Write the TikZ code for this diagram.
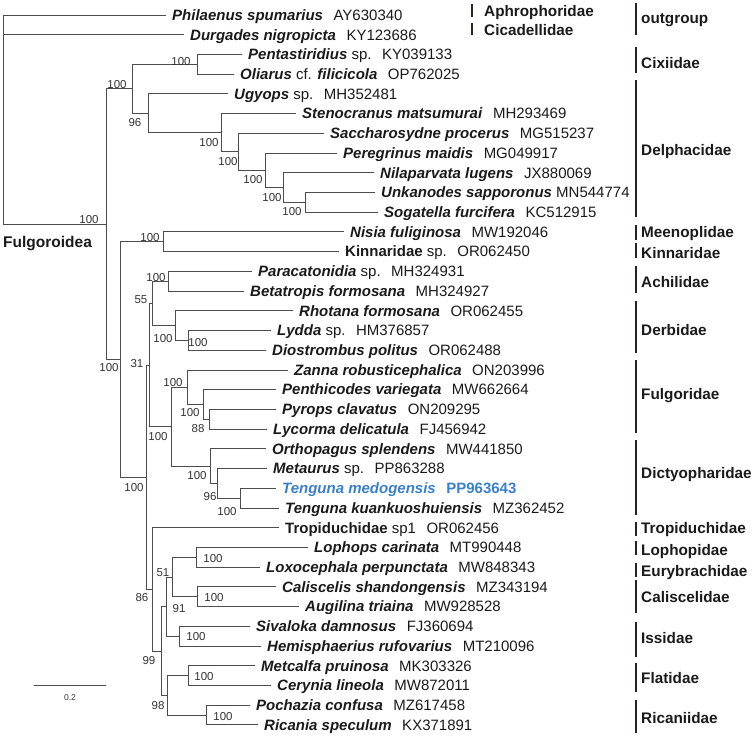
\documentclass[tikz,border=0pt]{standalone}
\usepackage{fontspec}
\setmainfont{Liberation Sans}
\usetikzlibrary{calc}
\definecolor{brc}{HTML}{4D4D4D}
\definecolor{txt}{HTML}{1A1A1A}
\definecolor{supc}{HTML}{333333}
\definecolor{barc}{HTML}{2B1F1F}
\definecolor{blu}{HTML}{3C80C4}
\newcommand\bi[1]{\textbf{\textit{#1}}}
\newcommand\accgap{\hspace{0.7em}}
\tikzset{
  brline/.style={draw=brc, line width=0.9pt},
  leaflab/.style={anchor=base west, inner sep=0pt, yshift=-5.3pt, xshift=6pt, text=txt, font=\fontsize{15}{18}\selectfont},
  famlab/.style={anchor=base west, inner sep=0pt, yshift=-5.4pt, text=txt, font=\bfseries\fontsize{15.3}{18}\selectfont},
  fambar/.style={draw=barc, line width=2.6pt},
  supp/.style={inner sep=0pt, text=supc, font=\fontsize{11.5}{13}\selectfont},
}
\begin{document}
\begin{tikzpicture}[x=1pt,y=-1pt]
\useasboundingbox (0,0) rectangle (755,737);
% leaf tips
\coordinate (L1) at (166,15);
\coordinate (L2) at (184,34.72);
\coordinate (L3) at (242,54.44);
\coordinate (L4) at (234,74.16);
\coordinate (L5) at (228,93.88);
\coordinate (L6) at (296,113.6);
\coordinate (L7) at (324,133.32);
\coordinate (L8) at (337,153.04);
\coordinate (L9) at (374,172.76);
\coordinate (L10) at (375,192.48);
\coordinate (L11) at (378,212.2);
\coordinate (L12) at (344,231.92);
\coordinate (L13) at (339,251.64);
\coordinate (L14) at (252,271.36);
\coordinate (L15) at (244,291.08);
\coordinate (L16) at (293,310.8);
\coordinate (L17) at (271,330.52);
\coordinate (L18) at (266,350.24);
\coordinate (L19) at (288,369.96);
\coordinate (L20) at (276,389.68);
\coordinate (L21) at (276,409.4);
\coordinate (L22) at (267,429.12);
\coordinate (L23) at (266,448.84);
\coordinate (L24) at (267,468.56);
\coordinate (L25) at (276,488.28);
\coordinate (L26) at (279,508);
\coordinate (L27) at (279,527.72);
\coordinate (L28) at (308,547.44);
\coordinate (L29) at (260,567.16);
\coordinate (L30) at (276,586.88);
\coordinate (L31) at (299,606.6);
\coordinate (L32) at (250,626.32);
\coordinate (L33) at (261,646.04);
\coordinate (L34) at (255,665.76);
\coordinate (L35) at (271,685.48);
\coordinate (L36) at (250,705.2);
\coordinate (L37) at (258,724.92);
% internal nodes
\coordinate (R) at (3.5,15);
\coordinate (F) at (106.5,224.15);
\coordinate (CD) at (132,88.8);
\coordinate (Cix) at (197,64.3);
\coordinate (N96) at (148,113.29);
\coordinate (D1) at (221,132.7);
\coordinate (D2) at (238,151.81);
\coordinate (D3) at (265,170.3);
\coordinate (D4) at (283,187.55);
\coordinate (D5) at (305,202.34);
\coordinate (N120) at (120,359.49);
\coordinate (MK) at (163,241.78);
\coordinate (N146) at (146,477.19);
\coordinate (N31) at (149,365.03);
\coordinate (N55) at (152,303.4);
\coordinate (Ach) at (168,281.22);
\coordinate (Derb) at (175,325.59);
\coordinate (Derb2) at (188,340.38);
\coordinate (FD) at (171,426.65);
\coordinate (Fulg) at (187,387.2);
\coordinate (Fulg2) at (203,404.47);
\coordinate (Fulg3) at (209,419.26);
\coordinate (Dict) at (210,466.1);
\coordinate (Dict96) at (217,483.35);
\coordinate (Teng) at (240,498.14);
\coordinate (N86) at (152,589.35);
\coordinate (N99) at (161,650.97);
\coordinate (N91) at (166,606.6);
\coordinate (N51) at (172,577.02);
\coordinate (LL) at (196,557.3);
\coordinate (CA) at (197,596.74);
\coordinate (SH) at (179,636.18);
\coordinate (N98) at (167,695.34);
\coordinate (MC) at (188,675.62);
\coordinate (PR) at (206,715.06);
% branches
\foreach \p/\c in {R/L1,R/L2,R/F,F/CD,F/N120,CD/Cix,CD/N96,Cix/L3,Cix/L4,
  N96/L5,N96/D1,D1/L6,D1/D2,D2/L7,D2/D3,D3/L8,D3/D4,D4/L9,D4/D5,D5/L10,D5/L11,
  N120/MK,N120/N146,MK/L12,MK/L13,N146/N31,N146/N86,N31/N55,N31/FD,
  N55/Ach,N55/Derb,Ach/L14,Ach/L15,Derb/L16,Derb/Derb2,Derb2/L17,Derb2/L18,
  FD/Fulg,FD/Dict,Fulg/L19,Fulg/Fulg2,Fulg2/L20,Fulg2/Fulg3,Fulg3/L21,Fulg3/L22,
  Dict/L23,Dict/Dict96,Dict96/L24,Dict96/Teng,Teng/L25,Teng/L26,
  N86/L27,N86/N99,N99/N91,N99/N98,N91/N51,N91/SH,N51/LL,N51/CA,
  LL/L28,LL/L29,CA/L30,CA/L31,SH/L32,SH/L33,N98/MC,N98/PR,MC/L34,MC/L35,PR/L36,PR/L37}
  \draw[brline] (\p) |- (\c);
% leaf labels
\node[leaflab] (t1) at (L1) {\bi{Philaenus spumarius}\accgap AY630340};
\node[leaflab] (t2) at (L2) {\bi{Durgades nigropicta}\accgap KY123686};
\node[leaflab] (t3) at (L3) {\bi{Pentastiridius} sp.\accgap KY039133};
\node[leaflab] (t4) at (L4) {\bi{Oliarus} cf. \bi{filicicola}\accgap OP762025};
\node[leaflab] (t5) at (L5) {\bi{Ugyops} sp.\accgap MH352481};
\node[leaflab] (t6) at (L6) {\bi{Stenocranus matsumurai}\accgap MH293469};
\node[leaflab] (t7) at (L7) {\bi{Saccharosydne procerus}\accgap MG515237};
\node[leaflab] (t8) at (L8) {\bi{Peregrinus maidis}\accgap MG049917};
\node[leaflab] (t9) at (L9) {\bi{Nilaparvata lugens}\accgap JX880069};
\node[leaflab] (t10) at (L10) {\bi{Unkanodes sapporonus} MN544774};
\node[leaflab] (t11) at (L11) {\bi{Sogatella furcifera}\accgap KC512915};
\node[leaflab] (t12) at (L12) {\bi{Nisia fuliginosa}\accgap MW192046};
\node[leaflab] (t13) at (L13) {\textbf{Kinnaridae} sp.\accgap OR062450};
\node[leaflab] (t14) at (L14) {\bi{Paracatonidia} sp.\accgap MH324931};
\node[leaflab] (t15) at (L15) {\bi{Betatropis formosana}\accgap MH324927};
\node[leaflab] (t16) at (L16) {\bi{Rhotana formosana}\accgap OR062455};
\node[leaflab] (t17) at (L17) {\bi{Lydda} sp.\accgap HM376857};
\node[leaflab] (t18) at (L18) {\bi{Diostrombus politus}\accgap OR062488};
\node[leaflab] (t19) at (L19) {\bi{Zanna robusticephalica}\accgap ON203996};
\node[leaflab] (t20) at (L20) {\bi{Penthicodes variegata}\accgap MW662664};
\node[leaflab] (t21) at (L21) {\bi{Pyrops clavatus}\accgap ON209295};
\node[leaflab] (t22) at (L22) {\bi{Lycorma delicatula}\accgap FJ456942};
\node[leaflab] (t23) at (L23) {\bi{Orthopagus splendens}\accgap MW441850};
\node[leaflab] (t24) at (L24) {\bi{Metaurus} sp.\accgap PP863288};
\node[leaflab, text=blu] (t25) at (L25) {\bi{Tenguna medogensis}\accgap\textbf{PP963643}};
\node[leaflab] (t26) at (L26) {\bi{Tenguna kuankuoshuiensis}\accgap MZ362452};
\node[leaflab] (t27) at (L27) {\textbf{Tropiduchidae} sp1\accgap OR062456};
\node[leaflab] (t28) at (L28) {\bi{Lophops carinata}\accgap MT990448};
\node[leaflab] (t29) at (L29) {\bi{Loxocephala perpunctata}\accgap MW848343};
\node[leaflab] (t30) at (L30) {\bi{Caliscelis shandongensis}\accgap MZ343194};
\node[leaflab] (t31) at (L31) {\bi{Augilina triaina}\accgap MW928528};
\node[leaflab] (t32) at (L32) {\bi{Sivaloka damnosus}\accgap FJ360694};
\node[leaflab] (t33) at (L33) {\bi{Hemisphaerius rufovarius}\accgap MT210096};
\node[leaflab] (t34) at (L34) {\bi{Metcalfa pruinosa}\accgap MK303326};
\node[leaflab] (t35) at (L35) {\bi{Cerynia lineola}\accgap MW872011};
\node[leaflab] (t36) at (L36) {\bi{Pochazia confusa}\accgap MZ617458};
\node[leaflab] (t37) at (L37) {\bi{Ricania speculum}\accgap KX371891};
% support values
\foreach \x/\y/\v [count=\i] in {89/220/100,117/85/100,181/62/100,135/123/96,209/143/100,
  228/162/100,253/180/100,272/198/100,292/212/100,109/368/100,150/238/100,134/488/100,
  137/364/31,141/300/55,156/278/100,163/339/100,198/343/100,158/437/100,173/383/100,
  190/413/100,198/429/88,197/476/100,210/497/96,227/512/100,142/598/86,213/559/100,
  163/573/51,214/598/100,179/609/91,196/637/100,149/661/99,204/677/100,158/706/98,223/717/100}
  \node[supp] (s\i) at (\x,\y) {\v};
% group label
\node[anchor=base west, inner sep=0pt, text=txt, font=\bfseries\fontsize{15.5}{18}\selectfont] (fulg) at (3,247.5) {Fulgoroidea};
% family bars
\foreach \n/\xa/\ya/\yb in {
  a/472/4/17, b/472/23/35,
  c/636/3/35, d/636/47/73, e/636/80/217,
  f/636/225/240, g/636/243/258, h/636/266/293,
  i/636/301/353, j/636/360/433, k/636/440/515,
  l/636/522/536, m/636/541/555, n/636/563/577,
  o/636/580/613, p/636/622/657, q/636/663/692,
  r/636/700/733}
{
  \coordinate (bt\n) at (\xa,\ya);
  \coordinate (bb\n) at (\xa,\yb);
  \draw[fambar] (bt\n) -- (bb\n);
}
% family labels
\node[famlab] (fa) at (484,11) {Aphrophoridae};
\node[famlab] (fb) at (484,30) {Cicadellidae};
\foreach \n/\yt/\lab in {c/18/outgroup, d/63/Cixiidae, e/150/Delphacidae,
  f/232/Meenoplidae, g/253/Kinnaridae, h/282/Achilidae,
  i/330/Derbidae, j/394/Fulgoridae, k/473/Dictyopharidae,
  l/528/Tropiduchidae, m/550/Lophopidae, n/571/Eurybrachidae,
  o/597/Caliscelidae, p/638/Issidae, q/678/Flatidae, r/718/Ricaniidae}
  \node[famlab] (f\n) at (641,\yt) {\lab};
% scale bar
\coordinate (sb1) at (34,685);
\coordinate (sb2) at (106,685);
\draw[draw=brc, line width=0.9pt] (sb1) -- (sb2);
\node[inner sep=0pt, text=supc, font=\fontsize{8.5}{10}\selectfont] (sbl) at (70,697.5) {0.2};
\end{tikzpicture}
\end{document}
